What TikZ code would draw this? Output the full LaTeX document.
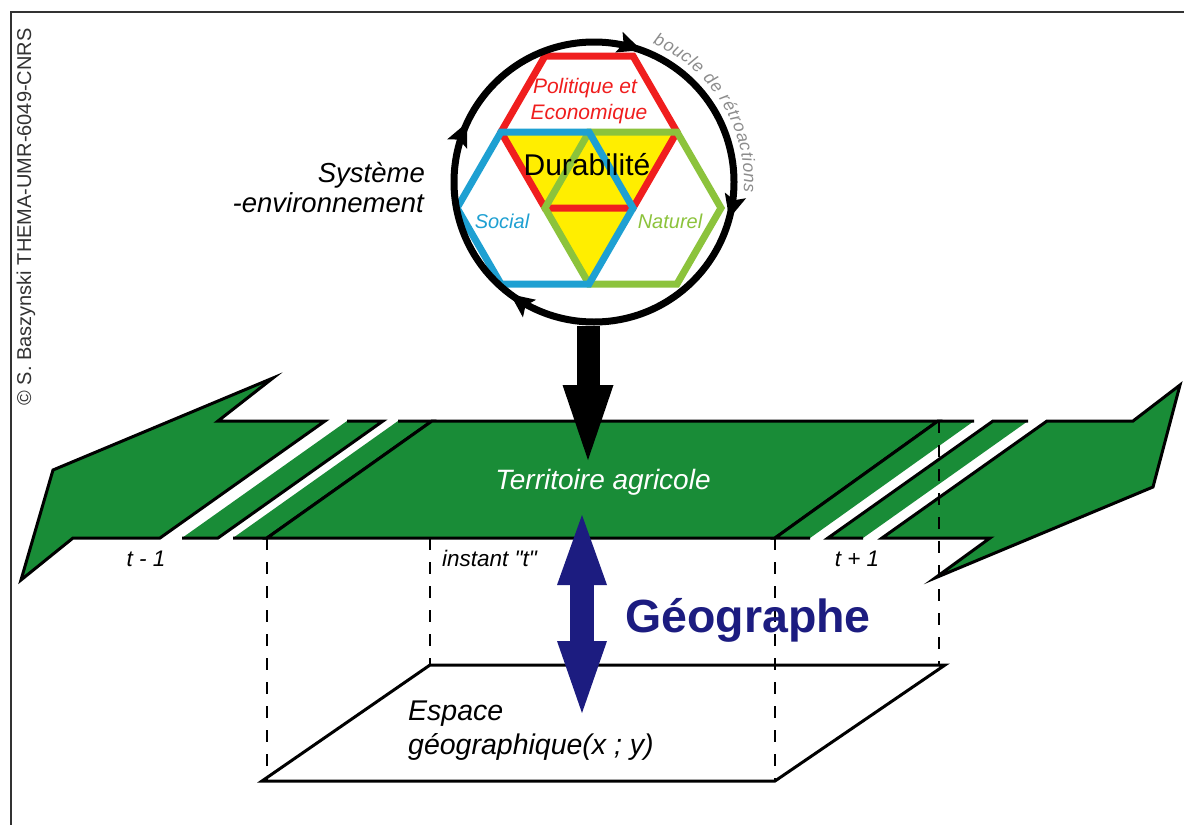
\documentclass[tikz,border=0pt]{standalone}
\usepackage{fontspec}
\setmainfont{Liberation Sans}
\usetikzlibrary{arrows.meta,decorations.markings,decorations.text}
\definecolor{bandgreen}{RGB}{25,140,55}
\definecolor{navy}{RGB}{28,28,128}
\definecolor{hexred}{RGB}{240,30,30}
\definecolor{hexblue}{RGB}{30,160,210}
\definecolor{hexgreen}{RGB}{140,195,60}
\definecolor{durayellow}{RGB}{255,238,0}
\definecolor{loopgray}{RGB}{140,140,140}
\definecolor{framegray}{RGB}{50,50,50}
\newcommand{\fsz}[1]{\fontsize{#1}{#1}\selectfont}
\newcommand{\bouclestyle}{\color{loopgray}\itshape\fsz{17.5}}
\newcommand{\looptip}{\arrow{Stealth[length=24pt, width=22pt, inset=5pt, line width=0pt]}}
\begin{document}
\begin{tikzpicture}[x=1pt,y=-1pt,
  bandfill/.style={fill=bandgreen},
  bandline/.style={line width=3pt, line join=miter},
  hexline/.style={line width=7pt, line join=miter},
  dashline/.style={line width=1.5pt, dash pattern=on 12pt off 12pt},
  lbl/.style={inner sep=0pt, font=\itshape\fsz{#1}},
  blockarrow/.style={line width=23pt, -{Triangle[length=75pt, width=51pt, line width=0pt]}},
  navyarrow/.style={navy, line width=24pt, {Triangle[length=70pt, width=50pt, line width=0pt]}-{Triangle[length=72pt, width=50pt, line width=0pt]}}
]
\useasboundingbox (0,0) rectangle (1184,825);
\fill[white] (0,0) rectangle (1184,825);
% frame
\draw[framegray, line width=2pt] (11,825) -- (11,12) -- (1184,12);
\node[inner sep=0pt, font=\fsz{20}, text=framegray, rotate=90] (copy) at (26,217) {© S. Baszynski THEMA-UMR-6049-CNRS};

% ---- green band ----
\filldraw[bandfill, bandline] (273,378) -- (53,470) -- (21,580) -- (73,538) -- (160,538) -- (325,421) -- (218,421) -- cycle;
\fill[bandfill] (347,421) -- (383,421) -- (218,538) -- (182,538) -- cycle;
\draw[bandline] (347,421) -- (383,421) -- (218,538) -- (182,538);
\fill[bandfill] (398,421) -- (432,421) -- (267,538) -- (233,538) -- cycle;
\draw[bandline] (398,421) -- (432,421) -- (267,538) -- (233,538);
\filldraw[bandfill, bandline] (432,421) -- (938,421) -- (775,538) -- (267,538) -- cycle;
\fill[bandfill] (938,421) -- (974,421) -- (810,538) -- (775,538) -- cycle;
\draw[bandline] (974,421) -- (938,421) -- (775,538) -- (810,538);
\fill[bandfill] (993,421) -- (1028,421) -- (863,538) -- (828,538) -- cycle;
\draw[bandline] (1028,421) -- (993,421) -- (828,538) -- (863,538);
\filldraw[bandfill, bandline] (1047,421) -- (1133,421) -- (1180,385) -- (1153,487) -- (935,578) -- (990,538) -- (882,538) -- cycle;

% ---- dashed projections and ground plane ----
\draw[dashline] (267,538) -- (267,781);
\draw[dashline] (430,538) -- (430,665);
\draw[dashline] (775,538) -- (775,781);
\draw[dashline] (939,421) -- (939,665);
\draw[line width=3pt, line join=miter] (430,665) -- (945,665) -- (775,781) -- (262,781) -- cycle;

% ---- hexagons ----
\fill[durayellow] (501,132) -- (677,132) -- (633,208) -- (589,284) -- (545,208) -- cycle;
\draw[hexline, hexred] (677,132) -- (633,208) -- (545,208) -- (501,132) -- (545,56) -- (633,56) -- cycle;
\draw[hexline, hexgreen] (721,208) -- (677,284) -- (589,284) -- (545,208) -- (589,132) -- (677,132) -- cycle;
\draw[hexline, hexblue] (633,208) -- (589,284) -- (501,284) -- (457,208) -- (501,132) -- (589,132) -- cycle;

% ---- feedback loop ----
\coordinate (loopc) at (594,182);
\node[circle, draw, line width=7pt, minimum size=280pt, inner sep=0pt] (loop) at (loopc) {};
\path[decorate, decoration={markings,
   mark=at position 0.055 with {\looptip},
   mark=at position 0.292 with {\looptip},
   mark=at position 0.602 with {\looptip},
   mark=at position 0.82 with {\looptip}}]
   (loopc) ++(-90:140) arc[start angle=-90, end angle=270, radius=140];
\path[decorate, decoration={text along path, text align={fit to path},
   text={|\bouclestyle|boucle de rétroactions}}]
   (loopc) ++(-67:150) arc[start angle=-67, end angle=4, radius=150];

\node[lbl=21, text=hexred, anchor=base] (pol) at (585,93) {Politique et};
\node[lbl=21, text=hexred, anchor=base] (eco) at (589,119) {Economique};
\node[inner sep=0pt, font=\fsz{30}, anchor=base] (dura) at (587,175) {Durabilité};
\node[lbl=20, text=hexblue, anchor=base] (soc) at (502,228) {Social};
\node[lbl=20, text=hexgreen, anchor=base] (nat) at (670,228) {Naturel};
\node[lbl=27.5, anchor=base east] (sys1) at (425,182) {Système};
\node[lbl=27.5, anchor=base east] (sys2) at (424,212) {-environnement};

% ---- arrows ----
\coordinate (btip) at (588,460);
\draw[blockarrow] (loop.south -| btip) -- (btip);
\node[lbl=28, text=white, anchor=base] (terr) at (603,489) {Territoire agricole};
\coordinate (ntop) at (582,515);
\coordinate (nbot) at (582,713);
\draw[navyarrow] (ntop) -- (nbot);

% ---- labels ----
\node[lbl=22.5, anchor=base] (tm1) at (146,566) {t - 1};
\node[lbl=22.5, anchor=base west] (tnow) at (442,566) {instant \textquotedbl t\textquotedbl};
\node[lbl=22.5, anchor=base] (tp1) at (857,566) {t + 1};
\node[inner sep=0pt, font=\bfseries\fsz{46.5}, text=navy, anchor=base west] (geo) at (625,632) {Géographe};
\node[lbl=28.5, anchor=base west] (esp1) at (408,720) {Espace};
\node[lbl=28.5, anchor=base west] (esp2) at (408,754) {géographique(x ; y)};
\end{tikzpicture}
\end{document}
